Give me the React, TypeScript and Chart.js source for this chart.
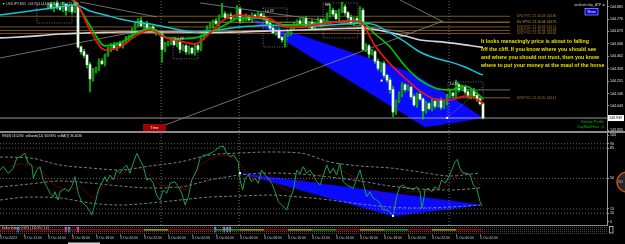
import React, { useEffect, useRef } from 'react';
import { Chart, registerables } from 'chart.js';

Chart.register(...registerables);

const FONT = '"Liberation Sans", "DejaVu Sans", Arial, sans-serif';

// ---------------- price panel (USDJPY M15) ----------------
const firstIndex = 16;
const firstOpen = 144.88;
const closes = [
  144.90, 144.87, 144.91, 144.88, 144.86, 144.90, 144.85, 144.88, 144.84, 144.89,
  144.54, 144.50, 144.47, 144.39, 144.27, 144.33, 144.36, 144.42, 144.40, 144.47,
  144.52, 144.56, 144.53, 144.57, 144.55, 144.58, 144.61, 144.63, 144.68, 144.73,
  144.76, 144.72, 144.74, 144.70, 144.71, 144.68, 144.66, 144.65, 144.52, 144.56,
  144.58, 144.60, 144.56, 144.58, 144.52, 144.55, 144.50, 144.53, 144.49, 144.55,
  144.52, 144.62, 144.66, 144.70, 144.72, 144.76, 144.74, 144.80, 144.82, 144.79,
  144.81, 144.78, 144.80, 144.86, 144.76, 144.78, 144.80, 144.77, 144.81, 144.79,
  144.82, 144.80, 144.78, 144.74, 144.70, 144.66, 144.68, 144.62, 144.60, 144.64,
  144.66, 144.70, 144.73, 144.76, 144.74, 144.78, 144.72, 144.75, 144.70, 144.74,
  144.77, 144.73, 144.76, 144.80, 144.85, 144.82, 144.78, 144.84, 144.88, 144.83,
  144.79, 144.74, 144.78, 144.75, 144.85, 144.52, 144.55, 144.48, 144.50, 144.42,
  144.36, 144.40, 144.30, 144.26, 144.18, 143.99, 144.08, 144.14, 144.22, 144.18,
  144.20, 144.12, 144.05, 144.14, 144.10, 144.00, 144.06, 144.02, 144.08, 144.04,
  144.09, 144.03, 144.07, 144.12, 144.15, 144.13, 144.22, 144.18, 144.20, 144.16,
  144.12, 144.17, 144.13, 144.10, 144.06, 143.94,
];
// wick lengths in 0.01 yen
const upperWicks = [
  1, 2, 1, 2, 1, 2, 1, 1, 2, 3,
  2, 1, 2, 1, 2, 3, 1, 2, 2, 1,
  2, 1, 2, 1, 2, 1, 2, 1, 2, 2,
  2, 3, 1, 2, 1, 2, 1, 1, 2, 2,
  1, 2, 2, 1, 2, 1, 1, 2, 1, 2,
  1, 2, 1, 2, 2, 1, 2, 1, 9, 2,
  1, 2, 1, 3, 2, 1, 2, 1, 2, 1,
  2, 1, 2, 1, 1, 2, 1, 2, 1, 1,
  2, 1, 2, 1, 2, 1, 2, 1, 2, 1,
  2, 1, 2, 3, 5, 2, 3, 2, 4, 2,
  1, 2, 1, 2, 3, 2, 2, 1, 2, 1,
  2, 1, 2, 1, 2, 3, 1, 2, 2, 1,
  2, 1, 2, 1, 2, 1, 2, 1, 2, 1,
  1, 2, 1, 2, 2, 1, 4, 1, 2, 1,
  2, 1, 2, 1, 1, 1,
];
const lowerWicks = [
  2, 1, 3, 2, 1, 2, 4, 1, 2, 1,
  1, 2, 2, 3, 11, 2, 1, 2, 1, 2,
  1, 2, 1, 2, 1, 2, 1, 2, 1, 1,
  2, 1, 2, 1, 2, 1, 2, 1, 11, 2,
  1, 2, 1, 2, 3, 1, 2, 2, 1, 2,
  2, 1, 2, 1, 1, 2, 1, 2, 1, 2,
  1, 2, 1, 1, 2, 1, 2, 1, 2, 1,
  1, 2, 1, 2, 2, 1, 2, 1, 2, 6,
  1, 2, 1, 2, 1, 2, 1, 2, 1, 2,
  1, 2, 1, 2, 1, 2, 1, 2, 1, 2,
  2, 1, 2, 1, 2, 1, 2, 3, 1, 2,
  2, 3, 2, 2, 3, 4, 2, 1, 2, 2,
  1, 2, 1, 2, 1, 7, 2, 1, 2, 2,
  1, 2, 1, 2, 1, 2, 1, 2, 1, 2,
  1, 2, 1, 2, 1, 1,
];

const maIndex = [0, 5, 10, 15, 20, 25, 30, 35, 40, 45, 50, 55, 60, 65, 70, 75, 80, 85, 90, 95, 100, 105, 110, 115, 120, 125, 130, 135, 140, 145, 150, 155, 160, 161];
const redMA = [145.02, 145.02, 145.00, 144.98, 144.96, 144.93, 144.684, 144.515, 144.54, 144.63, 144.684, 144.62, 144.59, 144.566, 144.66, 144.778, 144.811, 144.794, 144.778, 144.71, 144.71, 144.727, 144.744, 144.76, 144.752, 144.55, 144.397, 144.278, 144.168, 144.10, 144.092, 144.126, 144.083, 144.058];
const greenMA = [145.03, 145.03, 145.01, 144.99, 144.97, 144.92, 144.72, 144.55, 144.575, 144.65, 144.70, 144.625, 144.61, 144.617, 144.66, 144.727, 144.786, 144.786, 144.76, 144.727, 144.727, 144.735, 144.744, 144.76, 144.76, 144.65, 144.54, 144.38, 144.261, 144.194, 144.177, 144.21, 144.126, 144.10];
const cyanMA = [144.811, 144.828, 144.845, 144.862, 144.879, 144.896, 144.845, 144.811, 144.777, 144.752, 144.735, 144.71, 144.684, 144.667, 144.676, 144.693, 144.71, 144.718, 144.727, 144.718, 144.71, 144.718, 144.727, 144.735, 144.744, 144.727, 144.659, 144.583, 144.498, 144.447, 144.414, 144.371, 144.312, 144.304];
const whiteMA = [144.617, 144.622, 144.63, 144.64, 144.65, 144.655, 144.66, 144.664, 144.667, 144.667, 144.667, 144.667, 144.667, 144.665, 144.663, 144.665, 144.667, 144.672, 144.676, 144.68, 144.684, 144.689, 144.693, 144.697, 144.70, 144.688, 144.663, 144.633, 144.60, 144.588, 144.575, 144.558, 144.54, 144.537];

const priceTicks = [144.881, 144.776, 144.673, 144.566, 144.462, 144.358, 144.251, 144.146, 144.043, 143.835];
const lastPrice = 143.939;
const priceMin = 143.8294;
const priceMax = 144.9377;
const xMax = 202.33;

const pocPrices = [144.80, 144.75, 144.71, 144.68, 144.655, 144.11];
const pocStarts = [0, 56, 0, 0, 0, 151];
const pocEnd = 170;
const pocLabels = [
  'DR2 POC 22.10.03 144.80',
  'Dtr VPOC 22.10.04 144.75',
  'DR2 POC 22.10.03 144.71',
  'DR3 POC 22.10.04 144.68',
  'DR2 POC 22.10.04 144.66',
  'DR3 POC 22.10.05 144.11',
];
const hiLoLevel = [150, 170, 144.177];

// [x1, price1, x2, price2]
const trendLines = [
  [26.7, 144.921, 52.3, 144.794],
  [66.7, 144.913, 136.7, 144.659],
  [133.3, 144.938, 147.7, 144.752],
  [0, 144.447, 51.7, 144.701],
  [53.3, 143.864, 147.7, 144.760],
];
const dottedLines = [[149, 143.94, 160.7, 144.20]];
// [x1, top, x2, bottom, label]
const boxes = [
  [12.3, 144.896, 24, 144.743, ''],
  [57.7, 144.625, 66, 144.44, 'Lo 29'],
  [87.7, 144.87, 95.7, 144.54, 'Lo 25'],
  [107.7, 144.913, 119.3, 144.617, 'HH'],
  [149.3, 144.245, 161, 143.94, 'Lo 33'],
];
const vLines = [53.7, 79.7, 149.7];
const triX = [82.3, 136.7, 149, 161, 141.7];
const triP = [144.792, 144.327, 144.141, 143.94, 143.863];
const markerDots = [[127.2, 144.256], [149, 143.94]];

const noteLines = [
  'It looks menacingly price is about to falling',
  'off the cliff. If you know where you should see',
  'and where you should not trust, then you know',
  'where to put your money at the maul of the horse',
];

// ---------------- RSI panel ----------------
const rsiX = [0, 1.1, 2.8, 4.4, 5.6, 6.7, 8.3, 9.4, 10.6, 11.1, 12.2, 13.3, 14.4, 15.6, 16.7, 17.8, 18.3, 19.4, 20, 21.7, 22.8, 23.9, 25, 26.1, 27.2, 28.9, 30, 30.6, 31.7, 32.8, 33.9, 35, 35.6, 36.7, 37.8, 38.9, 40, 41.1, 42.2, 43.3, 44.4, 45.6, 46.7, 47.8, 48.9, 50, 51.1, 52.2, 53.3, 54.4, 55.6, 56.7, 58.3, 59.4, 60.6, 61.7, 62.8, 63.9, 65.6, 66.7, 67.8, 68.9, 71.1, 73.3, 74.4, 75.6, 76.7, 77.8, 79.4, 80, 80.9, 81.7, 82.8, 83.9, 85, 86.1, 87.2, 88.3, 89.4, 90.6, 91.7, 92.8, 94.4, 95.6, 96.7, 97.8, 98.9, 100, 101.1, 102.2, 103.3, 104.4, 105.6, 106.7, 107.8, 108.9, 110, 111.1, 112.2, 113.3, 114.4, 115.6, 116.7, 117.8, 118.9, 120, 121.1, 122.2, 123.3, 124.4, 125.6, 126.7, 127.8, 128.9, 130, 131.1, 132.2, 133.3, 134.4, 135.6, 136.7, 137.8, 138.9, 140, 140.6, 141.1, 141.7, 142.8, 143.9, 145, 146.1, 147.2, 148.3, 149.4, 150.6, 151.7, 152.4, 153.3, 154.4, 155.6, 156.7, 157.8, 158.9, 160, 160.6];
const rsiV = [59.8, 63.6, 56.0, 61.7, 73.2, 75.1, 79.0, 67.5, 65.5, 50.2, 59.8, 63.6, 48.3, 40.6, 33.0, 29.1, 34.8, 25.3, 34.8, 38.7, 34.8, 40.6, 52.1, 33.0, 23.3, 17.6, 11.8, 8.0, 21.5, 36.8, 44.5, 52.1, 46.3, 54.0, 48.3, 59.8, 56.0, 61.7, 65.5, 56.0, 67.5, 79.0, 71.3, 63.6, 48.3, 50.2, 44.5, 31.0, 25.3, 36.8, 33.0, 44.5, 46.3, 40.6, 33.0, 19.5, 29.1, 48.3, 59.8, 73.2, 77.0, 77.0, 80.8, 86.6, 87.4, 79.0, 75.1, 77.0, 69.3, 48.3, 36.8, 50.2, 54.0, 46.3, 50.2, 44.5, 59.8, 54.0, 50.2, 44.5, 34.8, 23.3, 17.6, 13.8, 27.2, 36.8, 59.8, 56.0, 63.6, 56.0, 59.8, 54.0, 46.3, 42.5, 54.0, 65.5, 56.0, 61.7, 54.0, 67.5, 46.3, 42.5, 40.6, 38.7, 50.2, 59.8, 44.5, 29.1, 34.8, 27.2, 25.3, 21.5, 13.8, 13.8, 11.8, 6.9, 29.1, 40.6, 42.5, 38.7, 38.7, 36.8, 40.6, 34.8, 15.7, 23.3, 36.8, 38.7, 34.8, 40.6, 36.8, 48.3, 44.5, 50.2, 59.8, 69.3, 72.1, 61.7, 56.0, 56.0, 54.0, 42.5, 38.7, 23.3, 18.4];
const rsiMaX = [3.3, 6.7, 11.1, 13.3, 17.8, 22.2, 26.7, 31.1, 35.6, 40, 44.4, 47.8, 51.1, 53.3, 57.8, 62.2, 66.7, 71.1, 75.6, 78.9, 83.3, 88.9, 93.3, 96.7, 100, 104.4, 108.9, 113.3, 117.8, 122.2, 126.7, 131.1, 135.6, 141.1, 145.6, 150, 153.3, 156.7, 158.9, 160.6];
const rsiMaV = [63.6, 67.5, 63.6, 61.7, 42.5, 36.8, 40.6, 27.2, 44.5, 54.0, 63.6, 59.8, 50.2, 42.5, 40.6, 36.8, 65, 75.1, 77.0, 71.3, 52.1, 50.2, 40.6, 34.8, 46.3, 52.1, 56.0, 59.8, 52.1, 42.5, 33.0, 21.5, 34.8, 34.8, 36.8, 44.5, 57.8, 54.0, 46.3, 40.6];
const bandX = [0, 10, 20, 30, 40, 50, 60, 70, 80, 90, 100, 110, 120, 130, 140, 150, 160];
const bandUpper = [74.7, 73.6, 65.5, 62.1, 59.8, 64.4, 69.0, 77.0, 79.3, 80.5, 79.3, 69.0, 64.4, 62.1, 57.5, 52.9, 56.3];
const bandMid = [40.2, 43.7, 47.1, 44.8, 41.4, 39.1, 40.2, 48.3, 54.0, 56.3, 55.2, 51.7, 47.1, 41.4, 37.9, 36.8, 39.1];
const bandLower = [25.3, 28.7, 27.6, 21.8, 19.5, 21.8, 25.3, 28.7, 29.9, 31.0, 28.7, 25.3, 20.7, 17.2, 16.1, 17.2, 19.5];
const rsiLevels = [90, 85, 50, 15, 10];
const rsiTicks = [0, 10, 15, 50, 85, 90, 100];
const rsiMin = -3.45;
const rsiMax = 102.3;
const rsiTriX = [80, 160.7, 131];
const rsiTriV = [56.3, 19.5, 6.9];

const xLabels = ['3 Oct 2022', '3 Oct 12:00', '3 Oct 14:00', '3 Oct 16:00', '3 Oct 18:00', '3 Oct 20:00', '3 Oct 22:00', '4 Oct 00:00', '4 Oct 02:00', '4 Oct 04:00', '4 Oct 06:00', '4 Oct 08:00', '4 Oct 10:00', '4 Oct 12:00', '4 Oct 14:00', '4 Oct 16:00', '4 Oct 18:00', '4 Oct 20:00', '4 Oct 22:00', '5 Oct 00:00', '5 Oct 02:00'];
const xTickStep = 8;

// bottom strip indicator
const stripColors = ['#c00000', '#c00000', '#c00000', '#c00000', '#c00000', '#c00000', '#c8b000', '#c00000', '#c00000', '#40b000', '#c8b000', '#c00000', '#c8b000', '#40b000', '#c00000', '#c8b000', '#40b000', '#c00000', '#c8b000', '#c00000', '#c00000'];
const arrowsCyan = [6, 23, 71.7, 75.7];
const arrowsPink = [22, 26, 74.7, 76.7];

// ---------------- helpers ----------------
const pts = (xs: number[], ys: number[]) => xs.map((x, k) => ({ x, y: ys[k] }));
function line(data: any[], color: string, width: number, extra: any = {}) {
  return { type: 'line', data, borderColor: color, backgroundColor: color, borderWidth: width, pointRadius: 0, fill: false, tension: 0, ...extra };
}
function txt(ctx: CanvasRenderingContext2D, s: string, x: number, y: number, size: number, color: string, align: CanvasTextAlign = 'left', bold = false) {
  ctx.font = `${bold ? 'bold ' : ''}${size}px ${FONT}`;
  ctx.fillStyle = color;
  ctx.textAlign = align;
  ctx.textBaseline = 'middle';
  ctx.fillText(s, x, y);
}
const fixAxis = (w?: number, h?: number) => (s: any) => {
  if (w !== undefined) s.width = w;
  if (h !== undefined) s.height = h;
  s.paddingTop = 0; s.paddingBottom = 0; s.paddingLeft = 0; s.paddingRight = 0;
};

const pocLineColors = ['#7a5228', '#a09030', '#7a5228', '#7a5228', '#7a5228', '#8a5a2a'];
const pocTextColors = ['#b07a3a', '#bfae42', '#a8723a', '#a8723a', '#a8723a', '#b07a3a'];
const vLineColors = ['#8a8a8a', '#b0a040', '#8a8a8a'];

const priceOverlay = {
  id: 'priceOverlay',
  afterDatasetsDraw(chart: any) {
    const ctx = chart.ctx as CanvasRenderingContext2D;
    const X = (v: number) => chart.scales.x.getPixelForValue(v);
    const Y = (v: number) => chart.scales.y.getPixelForValue(v);
    ctx.save();
    ctx.fillStyle = '#ffffff';
    markerDots.forEach(([i, p]) => ctx.fillRect(X(i) - 1, Y(p) - 1, 2, 2));
    boxes.forEach((b: any) => { if (b[4]) txt(ctx, b[4], X(b[0]) + 2, Y(b[1]) + 2.6, 3.4, '#e6e6e6'); });
    pocLabels.forEach((l, k) => txt(ctx, l, 517, Y(pocPrices[k]), 3.3, pocTextColors[k]));
    // annotation
    ctx.font = `bold 10px ${FONT}`;
    const w = ctx.measureText(noteLines[3]).width;
    const fs = (10 * 124) / w;
    noteLines.forEach((l, k) => txt(ctx, l, 481, 42 + k * 7.7, fs, '#e8e000', 'left', true));
    // title
    txt(ctx, '\u25BC USDJPY,M15  143.953 143.968 143.921 143.939', 2, 4.5, 3.3, '#c8c8c8');
    // top right
    txt(ctx, 'aestheticsby_ATP \u2297', 605, 5, 3.4, '#d0d0d0', 'right');
    ctx.fillStyle = '#0000e0';
    ctx.fillRect(585, 8.5, 13, 6.5);
    ctx.strokeStyle = '#c0c0ff';
    ctx.lineWidth = 0.6;
    ctx.strokeRect(585, 8.5, 13, 6.5);
    txt(ctx, 'Show', 591.5, 11.8, 3.4, '#ffffff', 'center');
    // bottom right
    txt(ctx, 'Volume Profile', 604, 121.5, 3.6, '#00c000', 'right');
    txt(ctx, 'DayStartHour : 0', 604, 126.5, 3.6, '#00c000', 'right');
    // Time box
    ctx.fillStyle = '#a00000';
    ctx.fillRect(143, 124, 23, 7);
    txt(ctx, 'Time', 154.5, 127.6, 3.6, '#ffffff', 'center');
    ctx.restore();
  },
  afterDraw(chart: any) {
    const ctx = chart.ctx as CanvasRenderingContext2D;
    const y = chart.scales.y.getPixelForValue(lastPrice);
    ctx.save();
    ctx.fillStyle = '#ffffff';
    ctx.fillRect(608, y - 3, 16, 6);
    txt(ctx, lastPrice.toFixed(3), 609, y + 0.2, 3.6, '#000000');
    ctx.restore();
  },
};

const rsiOverlay = {
  id: 'rsiOverlay',
  afterDraw(chart: any) {
    const ctx = chart.ctx as CanvasRenderingContext2D;
    const X = (v: number) => chart.scales.x.getPixelForValue(v);
    const Y = (v: number) => chart.scales.y.getPixelForValue(v);
    ctx.save();
    ctx.fillStyle = '#8c8c8c';
    ctx.fillRect(0, 0, 625, 2);
    txt(ctx, 'RSI(8) 16.5290  ssBands(14) 34.9394  ssMA(7) 36.4536', 2, 5.5, 3.2, '#e0e0e0');
    ctx.fillStyle = '#ffffff';
    [[rsiTriX[0], rsiTriV[0]], [rsiTriX[2], rsiTriV[2]]].forEach(([i, v]) => ctx.fillRect(X(i) - 1, Y(v) - 1, 2, 2));
    ctx.fillStyle = '#8c8c8c';
    ctx.fillRect(0, 94, 607, 1);
    ctx.strokeStyle = '#5a5a5a';
    ctx.lineWidth = 0.8;
    ctx.setLineDash([1, 1]);
    [96.5, 98.5, 100.5, 102.5].forEach((yy) => { ctx.beginPath(); ctx.moveTo(0, yy); ctx.lineTo(607, yy); ctx.stroke(); });
    ctx.setLineDash([]);
    stripColors.forEach((c, k) => {
      const x0 = X(k * xTickStep);
      const x1 = X(Math.min((k + 1) * xTickStep, 161));
      ctx.fillStyle = c;
      ctx.fillRect(x0, 98.2, x1 - x0, 1.3);
    });
    txt(ctx, 'Dollar Index ( 0.52% ) 111.95 ( 1.0 )', 2, 97.3, 3, '#d8d8d8');
    const arrow = (i: number, color: string) => {
      const x = X(i);
      ctx.fillStyle = color;
      ctx.fillRect(x - 0.5, 96.5, 1, 5);
      ctx.beginPath(); ctx.moveTo(x - 1.6, 97.5); ctx.lineTo(x, 95.3); ctx.lineTo(x + 1.6, 97.5); ctx.closePath(); ctx.fill();
    };
    arrowsCyan.forEach((i) => arrow(i, '#20c8ff'));
    arrowsPink.forEach((i) => arrow(i, '#e070e0'));
    ctx.strokeStyle = '#e0e0e0';
    ctx.lineWidth = 0.7;
    ctx.strokeRect(609.5, 95.5, 3.5, 6.5);
    ctx.fillStyle = '#a0a0a0';
    xLabels.forEach((_, k) => ctx.fillRect(X(k * xTickStep), 103.5, 0.8, 2));
    ctx.beginPath();
    ctx.arc(627, 51, 10, 0, Math.PI * 2);
    ctx.fillStyle = '#262626';
    ctx.fill();
    ctx.lineWidth = 1.4;
    ctx.strokeStyle = '#c8501a';
    ctx.stroke();
    txt(ctx, '50', 620.5, 51, 4, '#d0d0d0', 'center');
    ctx.fillStyle = '#d8d8d8';
    ctx.fillRect(68, 111.5, 32, 1.5);
    ctx.restore();
  },
};

function priceConfig(): any {
  const candles = closes.map((c, k) => {
    const o = k === 0 ? firstOpen : closes[k - 1];
    return { i: firstIndex + k, o, c, h: Math.max(o, c) + upperWicks[k] / 100, l: Math.min(o, c) - lowerWicks[k] / 100 };
  });
  const datasets: any[] = [
    line(pts([...triX, triX[0]], [...triP, triP[0]]), '#0a0aff', 0.5, { fill: 'shape', order: 30 }),
    ...pocPrices.map((p, k) => line([{ x: pocStarts[k], y: p }, { x: pocEnd, y: p }], pocLineColors[k], 1, { order: 25 })),
    line([{ x: hiLoLevel[0], y: hiLoLevel[2] }, { x: hiLoLevel[1], y: hiLoLevel[2] }], '#6a6a6a', 1, { order: 25 }),
    ...trendLines.map(([a, b, c, d]) => line([{ x: a, y: b }, { x: c, y: d }], '#7a7a7a', 0.9, { order: 24 })),
    ...dottedLines.map(([a, b, c, d]) => line([{ x: a, y: b }, { x: c, y: d }], '#9a9a9a', 0.8, { borderDash: [1, 1.5], order: 24 })),
    ...boxes.map((b: any) => line([{ x: b[0], y: b[1] }, { x: b[2], y: b[1] }, { x: b[2], y: b[3] }, { x: b[0], y: b[3] }, { x: b[0], y: b[1] }], '#8c8c8c', 0.8, { borderDash: [1, 1.5], order: 24 })),
    ...vLines.map((v, k) => line([{ x: v, y: priceMin }, { x: v, y: priceMax }], vLineColors[k], 0.8, { borderDash: [1, 2], order: 24 })),
    line([{ x: 0, y: lastPrice }, { x: xMax, y: lastPrice }], '#9a9a9a', 1, { order: 24 }),
    {
      type: 'bar', data: candles.map((cd) => ({ x: cd.i, y: [cd.l, cd.h] })),
      backgroundColor: '#00c800', barThickness: 1, grouped: false, order: 6,
    },
    {
      type: 'bar', data: candles.map((cd) => ({ x: cd.i, y: [cd.o, cd.c] })),
      backgroundColor: candles.map((cd) => (cd.c >= cd.o ? '#139013' : '#eaffea')),
      barThickness: 2, minBarLength: 1, grouped: false, order: 5, borderWidth: 0,
    },
    line(pts(maIndex, whiteMA), '#d6d6d6', 1.6, { cubicInterpolationMode: 'monotone', order: 4 }),
    line(pts(maIndex, cyanMA), '#12c6d6', 1.5, { cubicInterpolationMode: 'monotone', order: 3 }),
    line(pts(maIndex, greenMA), '#00c800', 1.6, { cubicInterpolationMode: 'monotone', order: 2 }),
    line(pts(maIndex, redMA), '#ff1010', 1.6, { cubicInterpolationMode: 'monotone', order: 1 }),
  ];
  return {
    type: 'bar',
    data: { datasets },
    options: {
      responsive: false, animation: false, devicePixelRatio: 1, events: [],
      layout: { padding: { left: 0, right: 0, top: 0, bottom: 3 } },
      plugins: { legend: { display: false }, tooltip: { enabled: false } },
      scales: {
        x: { type: 'linear', min: 0, max: xMax, display: false, offset: false, grid: { offset: false } },
        y: {
          type: 'linear', position: 'right', min: priceMin, max: priceMax, beginAtZero: false,
          afterBuildTicks: (s: any) => { s.ticks = priceTicks.map((v) => ({ value: v })); },
          afterFit: fixAxis(18),
          ticks: { color: '#e0e0e0', font: { size: 3.6, family: FONT }, padding: 1, autoSkip: false, callback: (v: number) => v.toFixed(3) },
          grid: { drawOnChartArea: false, drawTicks: true, tickLength: 2, color: '#9a9a9a' },
          border: { color: '#9a9a9a' },
        },
      },
    },
    plugins: [priceOverlay],
  };
}

function rsiConfig(): any {
  const datasets: any[] = [
    line(pts([...rsiTriX, rsiTriX[0]], [...rsiTriV, rsiTriV[0]]), '#0a0aff', 0.5, { fill: 'shape', order: 30 }),
    ...rsiLevels.map((v) => line([{ x: 0, y: v }, { x: xMax, y: v }], '#7c7c7c', 0.8, { borderDash: [1, 2], order: 25 })),
    ...vLines.map((v, k) => line([{ x: v, y: rsiMin }, { x: v, y: rsiMax }], vLineColors[k], 0.8, { borderDash: [1, 2], order: 24 })),
    line(pts(bandX, bandUpper), '#7f8f8a', 0.9, { borderDash: [3, 2], cubicInterpolationMode: 'monotone', order: 20 }),
    line(pts(bandX, bandMid), '#7f8f8a', 0.9, { borderDash: [3, 2], cubicInterpolationMode: 'monotone', order: 20 }),
    line(pts(bandX, bandLower), '#7f8f8a', 0.9, { borderDash: [3, 2], cubicInterpolationMode: 'monotone', order: 20 }),
    line(pts(rsiMaX, rsiMaV), '#b00000', 1, { borderDash: [1, 1], order: 2 }),
    line(pts(rsiX, rsiV), '#1aa050', 1, { order: 1 }),
  ];
  return {
    type: 'line',
    data: { datasets },
    options: {
      responsive: false, animation: false, devicePixelRatio: 1, events: [],
      layout: { padding: { left: 0, right: 0, top: 2, bottom: 0 } },
      plugins: { legend: { display: false }, tooltip: { enabled: false } },
      scales: {
        x: {
          type: 'linear', min: 0, max: xMax, position: 'bottom', offset: false,
          afterBuildTicks: (s: any) => { s.ticks = xLabels.map((_, k) => ({ value: k * xTickStep })); },
          afterFit: fixAxis(undefined, 19),
          ticks: {
            color: '#c8c8c8', font: { size: 3.5, family: FONT }, padding: 11, autoSkip: false,
            maxRotation: 0, minRotation: 0, align: 'start',
            callback: (v: number) => xLabels[Math.round(v / xTickStep)] ?? '',
          },
          grid: { drawOnChartArea: false, drawTicks: false },
          border: { display: false },
        },
        y: {
          type: 'linear', position: 'right', min: rsiMin, max: rsiMax, beginAtZero: false,
          afterBuildTicks: (s: any) => { s.ticks = rsiTicks.map((v) => ({ value: v })); },
          afterFit: fixAxis(18),
          ticks: { color: '#e0e0e0', font: { size: 3.6, family: FONT }, padding: 1, autoSkip: false, callback: (v: number) => String(v) },
          grid: { drawOnChartArea: false, drawTicks: true, tickLength: 2, color: '#9a9a9a' },
          border: { color: '#9a9a9a' },
        },
      },
    },
    plugins: [rsiOverlay],
  };
}

export default function App() {
  const priceRef = useRef<HTMLCanvasElement>(null);
  const rsiRef = useRef<HTMLCanvasElement>(null);
  useEffect(() => {
    document.body.style.margin = '0';
    document.body.style.background = '#000';
    const c2 = new Chart(rsiRef.current as HTMLCanvasElement, rsiConfig());
    const c1 = new Chart(priceRef.current as HTMLCanvasElement, priceConfig());
    return () => { c1.destroy(); c2.destroy(); };
  }, []);
  return (
    <div style={{ position: 'relative', width: 625, height: 244, background: '#000', overflow: 'hidden' }}>
      <canvas ref={rsiRef} width={625} height={113} style={{ position: 'absolute', left: 0, top: 131, width: 625, height: 113 }} />
      <canvas ref={priceRef} width={625} height={134} style={{ position: 'absolute', left: 0, top: 0, width: 625, height: 134 }} />
    </div>
  );
}
